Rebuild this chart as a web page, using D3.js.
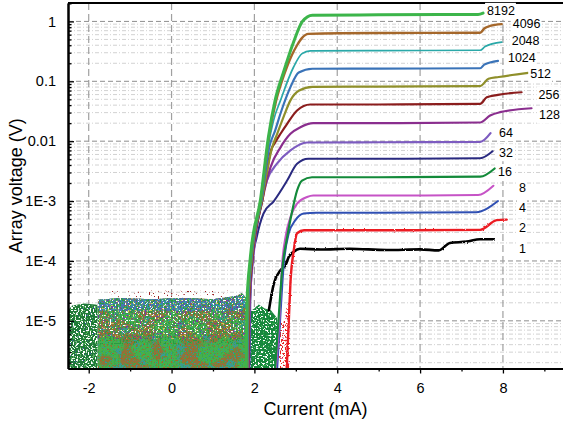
<!DOCTYPE html>
<html>
<head>
<meta charset="utf-8">
<script src="https://cdn.jsdelivr.net/npm/d3@7"></script>
<style>
  body { margin: 0; background: #fff; }
  svg { display: block; }
  text { font-family: Arial, "Liberation Sans", sans-serif; fill: #000; }
</style>
</head>
<body>
<svg id="chart" width="563" height="423"></svg>
<script>
// ---------------- data ----------------
const currentDomain = [-2.5, 9.45];           // mA
const voltageDomain = [1.6e-6, 2.03];         // V (log)
const xTicks = [-2, 0, 2, 4, 6, 8];
const xMinorTicks = [-1, 1, 3, 5, 7, 9];
const yTicks = [1e-5, 1e-4, 1e-3, 1e-2, 1e-1, 1];
const yTickLabels = ["1E-5", "1E-4", "1E-3", "0.01", "0.1", "1"];

// number of junctions in each array
const arraySizes = [1, 2, 4, 8, 16, 32, 64, 128, 256, 512, 1024, 2048, 4096, 8192];

// I-V traces: [current (mA), array voltage (V)]
const trace1 = [[2.35,1.5e-5],[2.47,4.2e-5],[2.63,7e-5],[2.75,8.5e-5],[2.83,1.17e-4],[2.95,1.43e-4],[3.1,1.6e-4],
  [3.6,1.55e-4],[4.3,1.6e-4],[5.2,1.52e-4],[6.0,1.56e-4],[6.45,1.5e-4],[6.72,2.0e-4],[7.12,2.1e-4],[7.45,2.3e-4],[7.77,2.3e-4]];
const trace2 = [[2.78,1.6e-6],[2.83,1e-5],[2.87,4.3e-5],[2.95,1.5e-4],[3.03,2.9e-4],[3.2,3.25e-4],[5,3.25e-4],
  [7.45,3.3e-4],[7.85,4.8e-4],[8.09,4.9e-4]];
const trace4 = [[2.55,1.6e-6],[2.62,1e-5],[2.71,9e-5],[2.83,2.9e-4],[2.99,4.8e-4],[3.19,6.2e-4],[3.5,6.4e-4],
  [5,6.4e-4],[7.35,6.5e-4],[7.88,1e-3]];
const trace8 = [[2.52,1.6e-6],[2.6,1e-5],[2.67,9e-5],[2.75,2.5e-4],[2.87,5.4e-4],[3.03,9.1e-4],[3.27,1.17e-3],
  [3.42,1.24e-3],[5,1.24e-3],[7.4,1.26e-3],[7.77,1.8e-3]];
const trace16 = [[2.5,1.6e-6],[2.58,1e-5],[2.67,7e-5],[2.79,2.5e-4],[2.9,6.2e-4],[3.03,1.5e-3],[3.15,2.2e-3],
  [3.39,2.5e-3],[5,2.5e-3],[7.45,2.55e-3],[7.8,3.5e-3]];
const trace32 = [[1.88,1.6e-6],[1.9,2e-5],[1.96,1.1e-4],[2.05,2.4e-4],[2.22,6.2e-4],[2.47,1e-3],[2.79,2.2e-3],
  [3.03,4.2e-3],[3.3,5.1e-3],[5,5.1e-3],[7.45,5.2e-3],[7.75,6.8e-3]];
const trace64 = [[1.87,1.6e-6],[1.89,2e-5],[1.97,1.1e-4],[2.12,7e-4],[2.3,2.2e-3],[2.55,4.25e-3],[2.87,7e-3],
  [3.27,9.5e-3],[5,9.6e-3],[7.45,9.7e-3],[7.7,0.0136]];
const trace128 = [[1.86,1.6e-6],[1.88,2e-5],[1.96,1.1e-4],[2.2,1.1e-3],[2.39,3.7e-3],[2.63,7.9e-3],[2.87,0.0133],
  [3.11,0.0171],[3.42,0.02],[5,0.02],[7.45,0.0205],[7.69,0.0268],[7.93,0.0305],[8.69,0.0355]];
const trace256 = [[1.85,1.6e-6],[1.87,2e-5],[1.95,1.1e-4],[2.2,1.1e-3],[2.4,7e-3],[2.5,9.5e-3],[2.63,0.0133],
  [2.79,0.0195],[3.03,0.0325],[3.35,0.041],[5,0.041],[7.45,0.042],[7.61,0.054],[7.88,0.0594],[8.45,0.0656]];
const trace512 = [[1.84,1.6e-6],[1.86,2e-5],[1.94,1.1e-4],[2.19,1.1e-3],[2.43,7.9e-3],[2.55,0.0133],[2.7,0.025],
  [2.87,0.048],[3.08,0.07],[3.4,0.081],[5,0.0816],[7.45,0.083],[7.65,0.11],[7.9,0.118],[8.61,0.138]];
const trace1024 = [[1.83,1.6e-6],[1.85,2e-5],[1.93,1.1e-4],[2.18,1.1e-3],[2.36,8e-3],[2.5,0.015],[2.63,0.029],
  [2.87,0.08],[3.07,0.14],[3.4,0.162],[5,0.163],[7.45,0.165],[7.55,0.19],[7.88,0.22]];
const trace2048 = [[1.82,1.6e-6],[1.84,2e-5],[1.92,1.1e-4],[2.17,1.1e-3],[2.33,8e-3],[2.46,0.022],[2.63,0.048],
  [2.94,0.17],[3.15,0.29],[3.35,0.322],[5,0.325],[7.45,0.33],[7.57,0.38],[7.97,0.45]];
const trace4096 = [[1.81,1.6e-6],[1.83,2e-5],[1.91,1.1e-4],[2.16,1.1e-3],[2.35,1.2e-2],[2.52,4.6e-2],[2.72,0.13],
  [2.9,0.27],[3.03,0.4],[3.15,0.53],[3.3,0.62],[5,0.64],[7.45,0.645],[7.55,0.76],[7.69,0.84],[7.97,0.9]];
const trace8192 = [[1.8,1.6e-6],[1.82,2e-5],[1.9,1.1e-4],[2.15,1.1e-3],[2.34,1.2e-2],[2.5,4.8e-2],[2.7,0.14],
  [2.94,0.44],[3.16,1.0],[3.4,1.27],[5,1.29],[7.4,1.31],[7.52,1.38]];

const traces = [trace1, trace2, trace4, trace8, trace16, trace32, trace64, trace128,
                trace256, trace512, trace1024, trace2048, trace4096, trace8192];

// noise floor below the switching current: upper edge of each scattered region
const floorA = [[-2.5,1.5e-5],[-2.4,1.8e-5],[-2.1,1.95e-5],[-1.78,1.85e-5]];
const floorB = [[-1.78,2.25e-5],[-1.2,2.4e-5],[-0.5,2.3e-5],[0.3,2.4e-5],[1.0,2.3e-5],[1.55,2.6e-5],[1.7,2.9e-5],[1.8,2.4e-5]];
const floorC = [[1.84,1.4e-5],[2.0,1.6e-5],[2.1,1.9e-5],[2.25,1.6e-5],[2.4,1.5e-5],[2.55,1.1e-5]];
const floorD = [[2.55,1.0e-5],[2.7,9e-6],[2.8,2e-5],[2.86,2e-5]];
const floorHalo = [[-1.5,3.2e-5],[1.6,3.2e-5]];
const floors = [floorA, floorB, floorC, floorD, floorHalo];

// ---------------- styles ----------------
const seriesColors = ["#000000", "#ec1c24", "#2f4fb3", "#c653c6", "#138a3a", "#2a2a80", "#7d5cc0",
                      "#8a2e8e", "#8b1d1d", "#8f8f2a", "#3a73b8", "#2aa8a8", "#a5672a", "#3cb54a"];
const seriesWidths = [2.6, 2.4, 2, 2, 2.2, 2, 2.2, 2.2, 2.2, 2.2, 2.2, 1.7, 2.4, 3];
// label offset from the end of each trace [dx, dy]
const labelOffsets = [[25.6,13.3],[12.3,12],[21,10.6],[25.6,6],[3.3,8],[6.5,5.5],[8.5,3.5],
                      [7.5,11],[17,6.5],[2,5.4],[10,1],[10,3],[11,3.7],[4,2.3]];

// speckle layers of the noise floor: region, optional voltage band, colour, grain, seed, threshold
const noiseLayers = [
  {r:4, color:"#9e2424", f:0.55, seed:31, t:0.66},
  {r:0, color:"#1f7a38"},
  {r:0, color:"#ffffff", f:0.6, seed:3, t:0.55},
  {r:0, color:"#58b85c", f:0.6, seed:4, t:0.62},
  {r:0, color:"#3a4db0", f:0.6, seed:5, t:0.70},
  {r:1, color:"#93713a"},
  {r:1, color:"#45b04e", f:0.05, seed:7, t:0.47},
  {r:1, color:"#3f9a8c", f:0.08, seed:8, t:0.60},
  {r:1, color:"#3aaa4a", f:0.55, seed:9, t:0.56},
  {r:1, color:"#a06a2a", f:0.55, seed:10, t:0.62},
  {r:1, color:"#2f9aa0", f:0.55, seed:11, t:0.64},
  {r:1, lo:1.45e-5, color:"#4479b2", f:0.55, seed:12, t:0.42},
  {r:1, lo:1.45e-5, color:"#2aa0a8", f:0.55, seed:13, t:0.58},
  {r:1, hi:5e-6, color:"#7b3aa2", f:0.6, seed:14, t:0.60},
  {r:1, hi:5e-6, color:"#d4cc58", f:0.6, seed:15, t:0.64},
  {r:1, hi:6e-6, color:"#ffffff", f:0.6, seed:16, t:0.62},
  {r:1, hi:4e-6, color:"#2a9a40", f:0.6, seed:17, t:0.58},
  {r:2, color:"#17883d"},
  {r:2, color:"#ffffff", f:0.6, seed:18, t:0.58},
  {r:2, color:"#3cb04c", f:0.6, seed:19, t:0.64},
  {r:3, color:"#ffffff"},
  {r:3, color:"#e52424", f:0.6, seed:20, t:0.54},
  {r:3, color:"#e070c0", f:0.6, seed:21, t:0.67}
];

// ---------------- chart ----------------
const svg = d3.select("#chart");
const defs = svg.append("defs");
const x = d3.scaleLinear().domain(currentDomain).range([68, 563]);
const y = d3.scaleLog().domain(voltageDomain).range([368.5, 3]);
const [x0, x1] = x.range();
const [yB, yT] = y.range();

// grid
const minorY = [];
for (let e = -6; e <= 0; e++) for (let m = 2; m <= 9; m++) {
  const v = m * Math.pow(10, e);
  if (v >= voltageDomain[0] && v <= voltageDomain[1]) minorY.push(v);
}
const grid = svg.append("g");
grid.selectAll(".gmin").data(minorY).join("line")
  .attr("x1", x0).attr("x2", x1).attr("y1", d => y(d)).attr("y2", d => y(d))
  .attr("stroke", "#cdcdcd").attr("stroke-width", 0.9).attr("stroke-dasharray", "4,2,1,2");
grid.selectAll(".gmaj").data(yTicks).join("line")
  .attr("x1", x0).attr("x2", x1).attr("y1", d => y(d)).attr("y2", d => y(d))
  .attr("stroke", "#8e8e8e").attr("stroke-width", 1).attr("stroke-dasharray", "5,3");
grid.selectAll(".gx").data(xTicks).join("line")
  .attr("x1", d => x(d)).attr("x2", d => x(d)).attr("y1", yT).attr("y2", yB)
  .attr("stroke", "#a0a0a0").attr("stroke-width", 1.2).attr("stroke-dasharray", "7,4");

// top frame line
svg.append("line").attr("x1", x0).attr("x2", x1).attr("y1", yT).attr("y2", yT)
  .attr("stroke", "#000").attr("stroke-width", 2);

// noise floor
const floorArea = d3.area().x(d => x(d[0])).y0(yB).y1(d => y(d[1]));
floors.forEach((f, i) => {
  defs.append("clipPath").attr("id", "floor" + i).append("path").attr("d", floorArea(f));
});
const noiseG = svg.append("g");
noiseLayers.forEach((L, i) => {
  const f = floors[L.r];
  const g = noiseG.append("g").attr("clip-path", `url(#floor${L.r})`);
  const rx = x(f[0][0]), rw = x(f[f.length - 1][0]) - rx;
  const ry = L.lo ? yT : y(d3.max(f, d => d[1]) * 1.2);
  const rb = L.lo ? y(L.lo) : (L.hi ? y(L.hi) : yB);
  const rect = g.append("rect").attr("x", rx).attr("width", rw)
    .attr("y", ry).attr("height", rb - ry).attr("fill", L.color);
  if (L.f) {
    const c = d3.color(L.color);
    const id = "spk" + i;
    const flt = defs.append("filter").attr("id", id)
      .attr("x", 0).attr("y", 0).attr("width", 1).attr("height", 1)
      .attr("color-interpolation-filters", "sRGB");
    flt.append("feTurbulence").attr("type", "fractalNoise").attr("baseFrequency", L.f)
      .attr("numOctaves", 1).attr("seed", L.seed).attr("result", "n");
    const k = 22;
    flt.append("feColorMatrix").attr("in", "n").attr("type", "matrix")
      .attr("values", `0 0 0 0 ${c.r/255} 0 0 0 0 ${c.g/255} 0 0 0 0 ${c.b/255} ${k} 0 0 0 ${-k*L.t}`)
      .attr("result", "s");
    flt.append("feComposite").attr("in", "s").attr("in2", "SourceAlpha").attr("operator", "in");
    rect.attr("filter", `url(#${id})`);
  }
});

// roughened stroke for the noisy low-count traces
const rough = defs.append("filter").attr("id", "rough")
  .attr("x", -0.05).attr("y", -0.2).attr("width", 1.1).attr("height", 1.4);
rough.append("feTurbulence").attr("type", "fractalNoise").attr("baseFrequency", 0.9)
  .attr("numOctaves", 1).attr("seed", 2).attr("result", "t");
rough.append("feDisplacementMap").attr("in", "SourceGraphic").attr("in2", "t")
  .attr("scale", 2.6).attr("xChannelSelector", "R").attr("yChannelSelector", "G");

// label backgrounds
const labelG = svg.append("g");
const labels = arraySizes.map((n, i) => {
  const end = traces[i][traces[i].length - 1];
  return { n, x: x(end[0]) + labelOffsets[i][0], y: y(end[1]) + labelOffsets[i][1] };
});
const lt = labelG.selectAll("text").data(labels).join("text")
  .attr("x", d => d.x).attr("y", d => d.y).attr("font-size", 12.5).text(d => d.n);
lt.each(function(d) { d.bb = this.getBBox(); });
labelG.selectAll("rect").data(labels).join("rect")
  .attr("x", d => d.bb.x - 2).attr("y", d => d.bb.y - 1.5)
  .attr("width", d => d.bb.width + 3).attr("height", d => d.bb.height + 3)
  .attr("fill", "#fff");
lt.raise();

// traces
const line = d3.line().x(d => x(d[0])).y(d => y(d[1])).curve(d3.curveMonotoneX);
const traceG = svg.append("g").attr("fill", "none").attr("stroke-linejoin", "round").attr("stroke-linecap", "round");
traces.forEach((t, i) => {
  const p = traceG.append("path").attr("d", line(t))
    .attr("stroke", seriesColors[i]).attr("stroke-width", seriesWidths[i]);
  if (i < 2) p.attr("filter", "url(#rough)");
});
labelG.raise();

// axes
const axisL = svg.append("g").attr("transform", `translate(${x0},0)`)
  .call(d3.axisLeft(y).tickValues(yTicks).tickSize(-6).tickSizeOuter(0).tickPadding(12)
    .tickFormat((d, i) => yTickLabels[i]));
const axisLm = svg.append("g").attr("transform", `translate(${x0},0)`)
  .call(d3.axisLeft(y).tickValues(minorY).tickSize(-3.5).tickSizeOuter(0).tickFormat(""));
const axisB = svg.append("g").attr("transform", `translate(0,${yB})`)
  .call(d3.axisBottom(x).tickValues(xTicks).tickSize(5).tickSizeOuter(0).tickPadding(9)
    .tickFormat(d => d < 0 ? "-" + Math.abs(d) : d));
const axisBm = svg.append("g").attr("transform", `translate(0,${yB})`)
  .call(d3.axisBottom(x).tickValues(xMinorTicks.filter(v => v <= currentDomain[1])).tickSize(3).tickSizeOuter(0).tickFormat(""));
[axisL, axisLm, axisB, axisBm].forEach(a => {
  a.selectAll(".domain").attr("stroke", "#000").attr("stroke-width", 2);
  a.selectAll(".tick line").attr("stroke", "#000").attr("stroke-width", 1.3);
  a.selectAll("text").attr("font-size", 14.5).attr("font-family", "Arial, 'Liberation Sans', sans-serif").attr("fill", "#000");
});

// axis titles
svg.append("text").attr("x", (x0 + x1) / 2).attr("y", 415).attr("text-anchor", "middle")
  .attr("font-size", 18).text("Current (mA)");
svg.append("text").attr("transform", `translate(22,${(yT + yB) / 2}) rotate(-90)`)
  .attr("text-anchor", "middle").attr("font-size", 18).text("Array voltage (V)");
</script>
</body>
</html>
